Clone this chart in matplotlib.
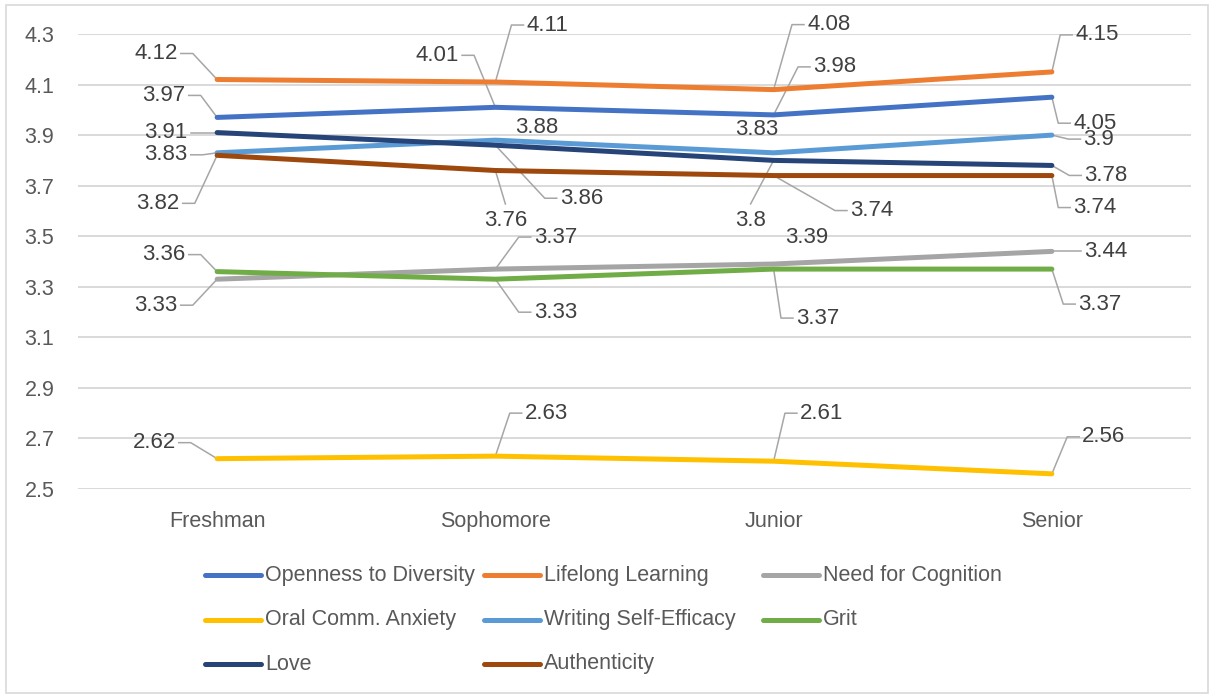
import matplotlib
matplotlib.use("Agg")
import matplotlib.pyplot as plt
import numpy as np
from matplotlib.lines import Line2D
from matplotlib.patches import Rectangle

categories = ["Freshman", "Sophomore", "Junior", "Senior"]
series_names = ["Openness to Diversity", "Lifelong Learning", "Need for Cognition",
                "Oral Comm. Anxiety", "Writing Self-Efficacy", "Grit", "Love", "Authenticity"]
openness = [3.97, 4.01, 3.98, 4.05]
lifelong = [4.12, 4.11, 4.08, 4.15]
cognition = [3.33, 3.37, 3.39, 3.44]
oral_anxiety = [2.62, 2.63, 2.61, 2.56]
writing = [3.83, 3.88, 3.83, 3.9]
grit = [3.36, 3.33, 3.37, 3.37]
love = [3.91, 3.86, 3.8, 3.78]
authenticity = [3.82, 3.76, 3.74, 3.74]
y_ticks = [2.5, 2.7, 2.9, 3.1, 3.3, 3.5, 3.7, 3.9, 4.1, 4.3]

series = [openness, lifelong, cognition, oral_anxiety, writing, grit, love, authenticity]
colors = ["#4472C4", "#ED7D31", "#A5A5A5", "#FFC000", "#5B9BD5", "#70AD47", "#264478", "#9E480E"]

# data label offsets in pixels (dx right, dy down) and the side the leader line leaves from
label_layout = [
    [(-53, -22, "r"), (-58, -52, "r"), (61, -48, "l"), (43, 26, "l")],
    [(-61, -26, "r"), (52, -57, "l"), (55, -65, "l"), (45, -37, "l")],
    [(-61, 26, "r"), (60, -32, "l"), (33, -27, ""), (54, 0, "l")],
    [(-63, -16, "r"), (51, -43, "l"), (48, -48, "l"), (52, -37, "l")],
    [(-51, 2, "r"), (41, -13, ""), (-17, -23, ""), (47, 4, "l")],
    [(-53, -17, "r"), (60, 33, "l"), (44, 49, "l"), (48, 35, "l")],
    [(-51, 0, "r"), (86, 53, "l"), (-23, 60, "t"), (54, 10, "l")],
    [(-59, 48, "r"), (10, 50, "t"), (98, 35, "l"), (43, 32, "l")],
]

W, H = 1212, 696
plt.rcParams.update({"font.family": ["Liberation Sans", "DejaVu Sans"], "font.size": 15.5})
fig = plt.figure(figsize=(W / 100, H / 100), dpi=100)
ax = fig.add_axes([78 / W, 1 - 489 / H, (1191 - 78) / W, (489 - 34) / H])

x = np.arange(len(categories))
for values, color in zip(series, colors):
    ax.plot(x, values, color=color, lw=3.6, solid_capstyle="round", zorder=3, clip_on=False)

ax.set_xlim(-0.5, len(categories) - 0.5)
ax.set_ylim(y_ticks[0], y_ticks[-1])
ax.set_yticks(y_ticks, [f"{t:g}" for t in y_ticks])
ax.set_xticks(x, categories)
ax.tick_params(axis="both", length=0, colors="#595959", labelsize=15.5)
ax.tick_params(axis="y", pad=17)
ax.tick_params(axis="x", pad=16)
for spine in ax.spines.values():
    spine.set_visible(False)
ax.yaxis.grid(True, color="#d9d9d9", lw=1.4)
ax.set_axisbelow(True)

labels = []
for values, layout in zip(series, label_layout):
    for xi, (v, (dx, dy, side)) in enumerate(zip(values, layout)):
        t = ax.annotate(f"{v:g}", (xi, v), xytext=(dx, -dy), textcoords="offset pixels",
                        ha="center", va="center", color="#404040", fontsize=16, zorder=4)
        labels.append((t, xi, v, side))

fig.canvas.draw()
renderer = fig.canvas.get_renderer()
inv = ax.transData.inverted()
for t, xi, v, side in labels:
    if not side:
        continue
    bb = t.get_window_extent(renderer)
    px, py = ax.transData.transform((xi, v))
    cy = (bb.y0 + bb.y1) / 2
    if side == "l":
        pts = [(bb.x0 - 3, cy), (bb.x0 - 15, cy), (px, py)]
    elif side == "r":
        pts = [(bb.x1 + 3, cy), (bb.x1 + 15, cy), (px, py)]
    else:
        pts = [((bb.x0 + bb.x1) / 2, bb.y1 + 6), (px, py)]
    d = inv.transform(pts)
    ax.plot(d[:, 0], d[:, 1], color="#a6a6a6", lw=1.1, zorder=2.5, clip_on=False)

# legend, three entries per row
for i, (name, color) in enumerate(zip(series_names, colors)):
    row, col = divmod(i, 3)
    x0 = 205 + col * 279
    y0 = 575 + row * 44.5
    fig.add_artist(Line2D([x0 / W, (x0 + 56) / W], [1 - y0 / H, 1 - y0 / H], color=color,
                          lw=3.6, solid_capstyle="round", transform=fig.transFigure))
    fig.text((x0 + 60) / W, 1 - y0 / H, name, ha="left", va="center", color="#595959", fontsize=15.5)

fig.add_artist(Rectangle((6 / W, 3 / H), (W - 10) / W, (H - 8) / H, transform=fig.transFigure,
                         fill=False, edgecolor="#d9d9d9", lw=1.2))

fig.savefig("out.png", dpi=100, facecolor="white")
